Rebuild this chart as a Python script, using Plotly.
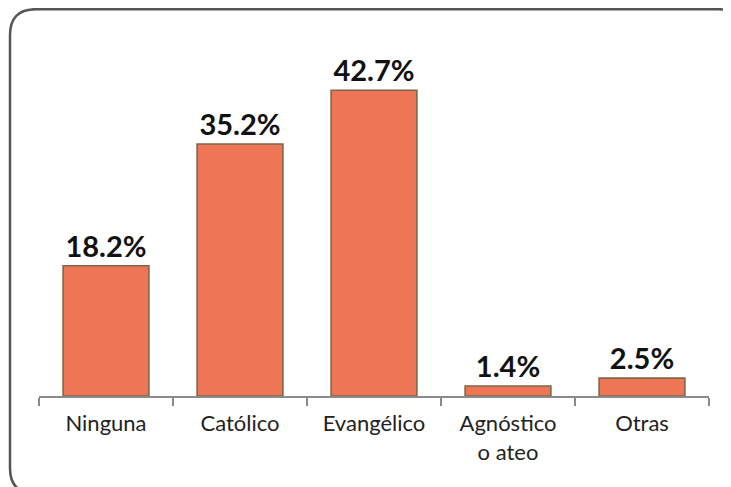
import plotly.graph_objects as go

categories = ["Ninguna", "Católico", "Evangélico", "Agnóstico<br>o ateo", "Otras"]
values = [18.2, 35.2, 42.7, 1.4, 2.5]
labels = ["18.2%", "35.2%", "42.7%", "1.4%", "2.5%"]

OFF = 8  # page body margin
W, H = 731 - OFF, 487 - OFF
ml, mr, mt, mb = 39 - OFF, 22, 30 - OFF, 91
pw, ph = W - ml - mr, H - mt - mb

def P(x, y):
    a = (x - ml) / pw
    b = (H - mb - y) / ph
    return f"{a:.5f},{b:.5f}"

# rounded frame (figure pixel coords)
L, R, T, B, r = 2, 736, 1.2, 486, 26
path = (f"M {P(L+r,T)} L {P(R-r,T)} Q {P(R,T)} {P(R,T+r)} L {P(R,B-r)} Q {P(R,B)} {P(R-r,B)} "
        f"L {P(L+r,B)} Q {P(L,B)} {P(L,B-r)} L {P(L,T+r)} Q {P(L,T)} {P(L+r,T)} Z")

fig = go.Figure(go.Bar(
    x=categories, y=values, text=labels, textposition="outside",
    textfont=dict(family="Lato", size=29, color="#111"),
    texttemplate="<b>%{text}</b>",
    marker=dict(color="#EE7657", line=dict(color="#7A6848", width=1.6)),
    cliponaxis=False,
))
fig.update_layout(
    width=W, height=H, margin=dict(l=ml, r=mr, t=mt, b=mb),
    paper_bgcolor="white", plot_bgcolor="white",
    bargap=0.36, showlegend=False,
    font=dict(family="Lato", size=22, color="#222"),
    shapes=[dict(type="path", xref="paper", yref="paper", path=path,
                 line=dict(color="#555", width=2.5), fillcolor="rgba(0,0,0,0)", layer="below")],
)
fig.update_xaxes(showline=True, linecolor="#8a8a8a", linewidth=1.5, ticks="outside",
                 tickson="boundaries", ticklen=8, tickcolor="#8a8a8a", tickwidth=1.5,
                 ticklabelstandoff=7,
                 tickfont=dict(family="Lato", size=22, color="#222"), showgrid=False)
fig.update_yaxes(range=[0, ph / 7.16], visible=False, showgrid=False)
fig.write_html("out.html")
